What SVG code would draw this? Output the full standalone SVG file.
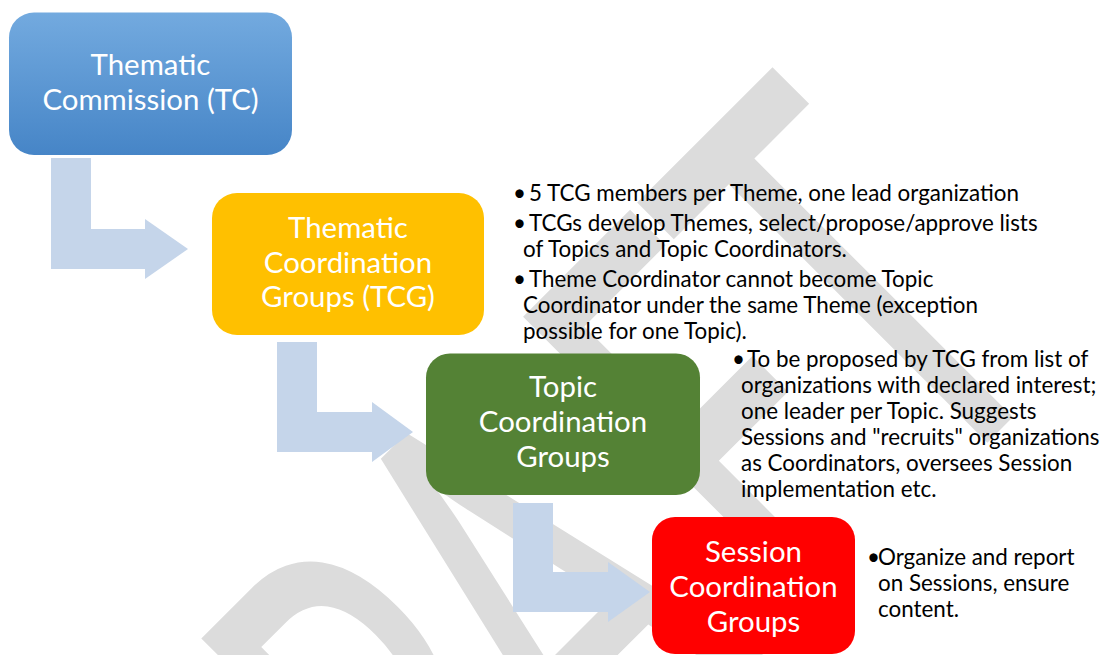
<svg xmlns="http://www.w3.org/2000/svg" width="1102" height="655" viewBox="0 0 1102 655">
  <defs>
    <linearGradient id="tcFill" x1="0" y1="0" x2="0" y2="1">
      <stop offset="0" stop-color="#73aadf"/>
      <stop offset="1" stop-color="#4685c7"/>
    </linearGradient>
    <style>
      .box-label{font-family:Lato,"Liberation Sans",sans-serif;font-size:29.4px;fill:#ffffff;text-anchor:middle}
      .note{font-family:Lato,"Liberation Sans",sans-serif;font-size:22.4px;fill:#000000}
      .flow{fill:#c5d5ea}
      .watermark{font-family:Lato,"Liberation Sans",sans-serif;font-weight:500;font-size:340px;fill:#dcdcdc;text-anchor:middle}
    </style>
  </defs>

  <rect width="1102" height="655" fill="#ffffff"/>

  <!-- diagonal background stamp -->
  <g id="watermark">
    <text class="watermark" transform="matrix(0.7071,-0.7071,1.209,1.209,1000,430)"><tspan x="-853" y="0">D</tspan><tspan x="-635" y="0">R</tspan><tspan x="-440" y="0">A</tspan><tspan x="-191" y="0">F</tspan><tspan x="0" y="0">T</tspan></text>
  </g>

  <!-- bent flow arrows between levels -->
  <g id="connectors">
    <polygon class="flow" points="51,158 91,158 91,229 145,229 145,219 188,249 145,279 145,269 51,269"/>
    <polygon class="flow" points="277,342 317,342 317,412 372,412 372,402 413,432 372,462 372,452 277,452"/>
    <polygon class="flow" points="513,503 553,503 553,572 608,572 608,562 650,592 608,622 608,612 513,612"/>
  </g>

  <g id="tc">
    <rect x="9" y="12.5" width="283" height="142.5" rx="25" fill="url(#tcFill)"/>
    <text class="box-label"><tspan x="150.5" y="75">Thematic</tspan><tspan x="150.5" y="110">Commission (TC)</tspan></text>
  </g>

  <g id="tcg">
    <rect x="212" y="193" width="272" height="142" rx="25" fill="#ffc000"/>
    <text class="box-label"><tspan x="348" y="238">Thematic</tspan><tspan x="348" y="272.5">Coordination</tspan><tspan x="348" y="307">Groups (TCG)</tspan></text>
  </g>

  <g id="tcg-notes">
    <text class="note">
      <tspan x="513" y="201">•</tspan><tspan x="529" y="201">5 TCG members per Theme, one lead organization</tspan>
      <tspan x="513" y="231">•</tspan><tspan x="529" y="231">TCGs develop Themes, select/propose/approve lists</tspan>
      <tspan x="523" y="257">of Topics and Topic Coordinators.</tspan>
      <tspan x="513" y="287">•</tspan><tspan x="529" y="287">Theme Coordinator cannot become Topic</tspan>
      <tspan x="523" y="313">Coordinator under the same Theme (exception</tspan>
      <tspan x="523" y="339">possible for one Topic).</tspan>
    </text>
  </g>

  <g id="topic">
    <rect x="426" y="353.5" width="274" height="141.5" rx="24" fill="#548235"/>
    <text class="box-label"><tspan x="563" y="397">Topic</tspan><tspan x="563" y="432">Coordination</tspan><tspan x="563" y="467">Groups</tspan></text>
  </g>

  <g id="topic-notes">
    <text class="note">
      <tspan x="732" y="367">•</tspan><tspan x="747" y="367">To be proposed by TCG from list of</tspan>
      <tspan x="741" y="393">organizations with declared interest;</tspan>
      <tspan x="741" y="419">one leader per Topic. Suggests</tspan>
      <tspan x="741" y="445">Sessions and "recruits" organizations</tspan>
      <tspan x="741" y="471">as Coordinators, oversees Session</tspan>
      <tspan x="741" y="497">implementation etc.</tspan>
    </text>
  </g>

  <g id="session">
    <rect x="652" y="517" width="203" height="137" rx="23" fill="#ff0000"/>
    <text class="box-label"><tspan x="753.5" y="562">Session</tspan><tspan x="753.5" y="597">Coordination</tspan><tspan x="753.5" y="631.5">Groups</tspan></text>
  </g>

  <g id="session-notes">
    <text class="note">
      <tspan x="867" y="565">•</tspan><tspan x="878" y="565">Organize and report</tspan>
      <tspan x="878" y="591">on Sessions, ensure</tspan>
      <tspan x="878" y="617">content.</tspan>
    </text>
  </g>
</svg>
